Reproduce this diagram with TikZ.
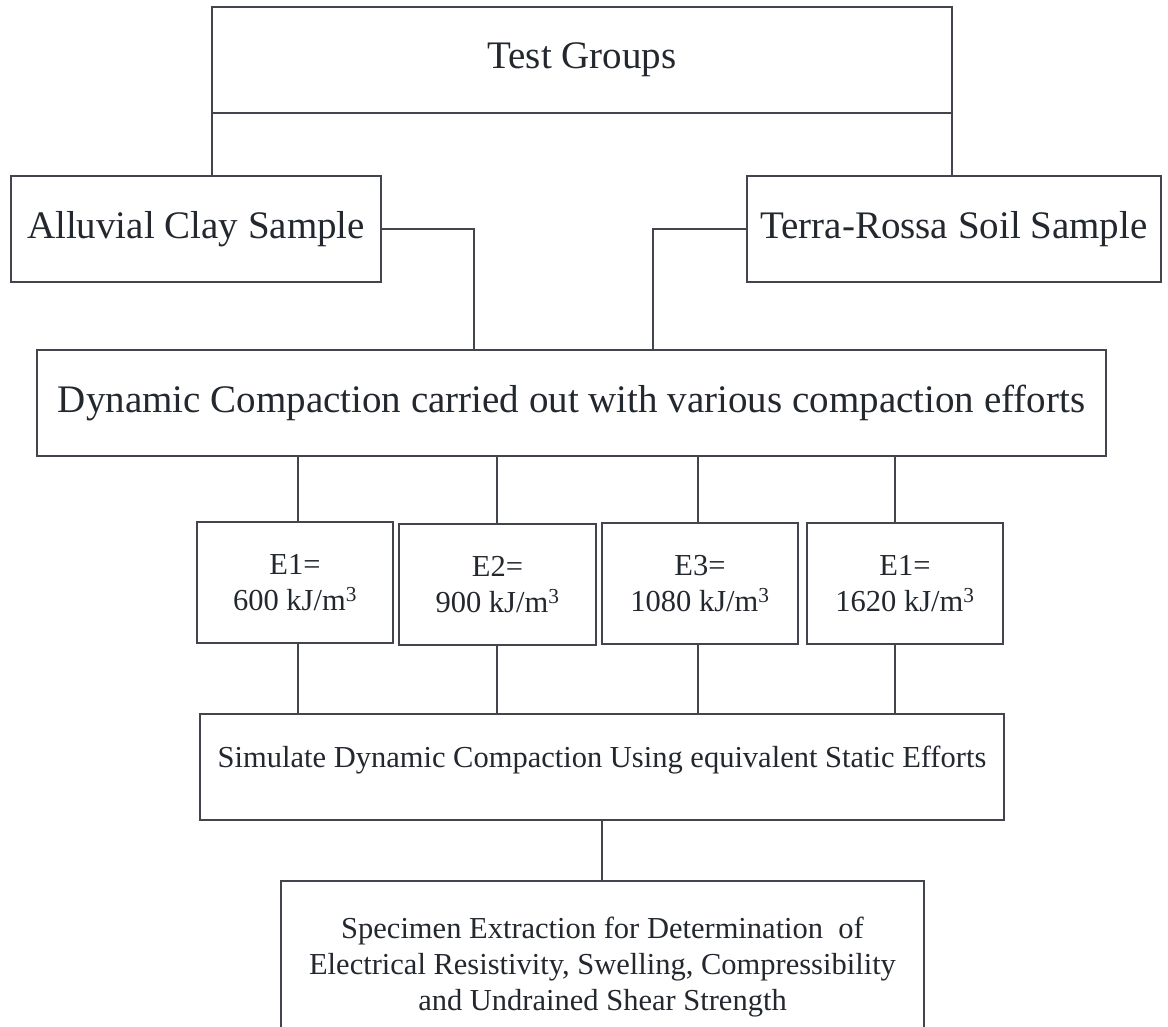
\documentclass[tikz,border=0pt]{standalone}
\usepackage{fontspec}
\setmainfont{Liberation Serif}
\usetikzlibrary{positioning}
\definecolor{edgegray}{RGB}{66,70,76}
\definecolor{inkdark}{RGB}{35,39,46}

\begin{document}
\begin{tikzpicture}[
    x=1pt, y=-1pt,
    box/.style={draw=edgegray, line width=1.1pt, text=inkdark, anchor=north west,
                inner sep=0pt, outer sep=0pt, align=center},
    bigtext/.style={font=\fontsize{39}{47}\selectfont},
    smalltext/.style={font=\fontsize{30.5}{36}\selectfont},
    link/.style={draw=edgegray, line width=1.1pt}
]
    \useasboundingbox (0,0) rectangle (1168,1027);

    \node[box, bigtext, minimum width=740pt, minimum height=106pt] (groups) at (212,7) {Test Groups};
    \node[box, bigtext, minimum width=370pt, minimum height=106pt] (alluvial) at (11,176) {Alluvial Clay Sample};
    \node[box, bigtext, minimum width=414pt, minimum height=106pt] (terra) at (747,176) {Terra-Rossa Soil Sample};
    \node[box, bigtext, minimum width=1069pt, minimum height=106pt] (dynamic) at (37,350)
        {Dynamic Compaction carried out with various compaction efforts};

    \node[box, smalltext, minimum width=196pt, minimum height=121pt] (e1) at (197,522) {E1=\\600 kJ/m\textsuperscript{3}};
    \node[box, smalltext, minimum width=197pt, minimum height=121pt] (e2) at (399,524) {E2=\\900 kJ/m\textsuperscript{3}};
    \node[box, smalltext, minimum width=196pt, minimum height=121pt] (e3) at (602,523) {E3=\\1080 kJ/m\textsuperscript{3}};
    \node[box, smalltext, minimum width=196pt, minimum height=121pt] (e4) at (807,523) {E1=\\1620 kJ/m\textsuperscript{3}};

    \node[box, smalltext, minimum width=804pt, minimum height=106pt, text height=20pt, text depth=20pt] (simulate) at (200,714)
        {Simulate Dynamic Compaction Using equivalent Static Efforts};
    \node[box, smalltext, minimum width=643pt, minimum height=172pt] (specimen) at (281,881)
        {Specimen Extraction for Determination\ \ of\\Electrical Resistivity, Swelling, Compressibility\\and Undrained Shear Strength};

    % groups to samples
    \draw[link] (groups.south west) -- (groups.south west |- alluvial.north);
    \draw[link] (groups.south east) -- (groups.south east |- terra.north);
    \coordinate (joinl) at (474,350);
    \coordinate (joinr) at (653,350);
    \draw[link] (alluvial.east) -| (joinl);
    \draw[link] (terra.west) -| (joinr);

    % efforts
    \foreach \n/\x in {1/298,2/497,3/698,4/895} {
        \coordinate (col\n) at (\x,0);
        \draw[link] (dynamic.south -| col\n) -- (e\n.north -| col\n);
        \draw[link] (e\n.south -| col\n) -- (simulate.north -| col\n);
    }
    \draw[link] (simulate.south) -- (simulate.south |- specimen.north);
\end{tikzpicture}
\end{document}
